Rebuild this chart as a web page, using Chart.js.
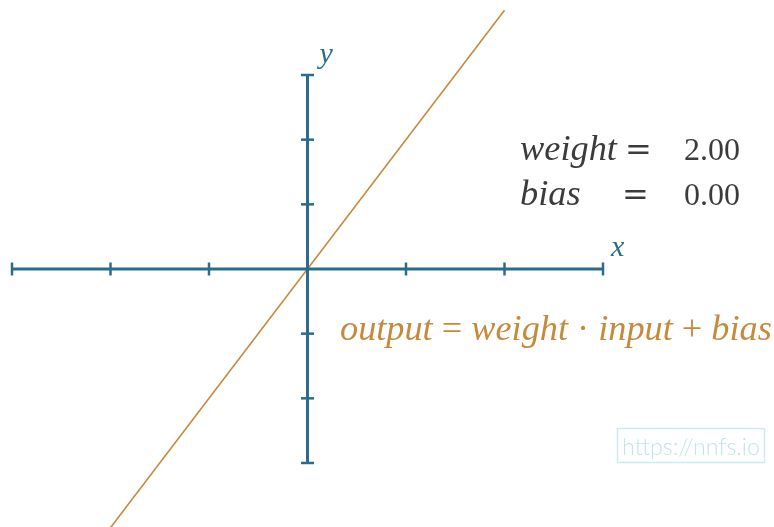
<!DOCTYPE html>
<html>
<head>
<meta charset="utf-8">
<script src="https://cdn.jsdelivr.net/npm/chart.js@4"></script>
<style>
html,body{margin:0;padding:0;background:#ffffff;}
#wrap{width:774px;height:527px;}
</style>
</head>
<body>
<div id="wrap"><canvas id="c" width="774" height="527"></canvas></div>
<script>
// Data
const xTicks = [-3, -2, -1, 0, 1, 2, 3];
const yTicks = [-3, -2, -1, 1, 2, 3];
const axisEnds = [-3, 3];
const lineInput = [-2, 2];
const lineOutput = [-4, 4];
const weightValue = "2.00";
const biasValue = "0.00";
const labels = {x: "x", y: "y", weight: "weight", bias: "bias",
  formula: "output = weight \u00b7 input + bias", site: "https://nnfs.io"};

const BLUE = '#2b6c8b';
const ORANGE = '#c68a3c';
const TEXT = '#3b3b3b';

function fitFont(ctx, text, base, target) {
  ctx.font = base(40);
  const w = ctx.measureText(text).width;
  return 40 * target / w;
}

const textPlugin = {
  id: 'texts',
  afterDraw(chart) {
    const ctx = chart.ctx;
    const xs = chart.scales.x, ys = chart.scales.y;
    ctx.save();
    ctx.textBaseline = 'alphabetic';
    // axis labels
    ctx.fillStyle = BLUE;
    ctx.font = 'italic 30px "Liberation Serif"';
    ctx.fillText(labels.x, xs.getPixelForValue(3) + 8, ys.getPixelForValue(0) - 13);
    ctx.fillText(labels.y, xs.getPixelForValue(0) + 12, ys.getPixelForValue(3) - 12);
    // weight / bias
    ctx.fillStyle = TEXT;
    const itf = s => 'italic ' + s + 'px "Liberation Serif"';
    const fsW = fitFont(ctx, labels.weight, itf, 97);
    ctx.font = itf(fsW);
    ctx.fillText(labels.weight, 520, 160);
    ctx.fillText(labels.bias, 520, 205);
    ctx.font = '32px "DejaVu Serif"';
    ctx.fillText('=', 625, 160);
    ctx.fillText('=', 622, 205);
    const rf = s => s + 'px "Liberation Serif"';
    ctx.font = rf(fitFont(ctx, weightValue, rf, 56));
    ctx.fillText(weightValue, 684, 160);
    ctx.fillText(biasValue, 684, 205);
    // formula
    ctx.fillStyle = ORANGE;
    const parts = [['output', true], [' = ', false], ['weight', true], [' \u00b7 ', false], ['input', true], [' + ', false], ['bias', true]];
    const measure = (s) => {
      let w = 0;
      for (const [t, it] of parts) { ctx.font = (it ? 'italic ' : '') + s + 'px "Liberation Serif"'; w += ctx.measureText(t).width; }
      return w;
    };
    const fs = 36 * 432 / measure(36);
    let px = 340;
    for (const [t, it] of parts) {
      ctx.font = (it ? 'italic ' : '') + fs + 'px "Liberation Serif"';
      ctx.fillText(t, px, 340);
      px += ctx.measureText(t).width;
    }
    // watermark
    ctx.strokeStyle = '#cfeaee';
    ctx.lineWidth = 1.5;
    ctx.strokeRect(617.5, 428.5, 147, 34);
    ctx.fillStyle = '#c3e4e9';
    const wf = s => '300 ' + s + 'px Lato';
    ctx.font = wf(fitFont(ctx, labels.site, wf, 138));
    ctx.fillText(labels.site, 622, 455);
    ctx.restore();
  }
};

new Chart(document.getElementById('c'), {
  type: 'scatter',
  data: {
    datasets: [
      {
        type: 'line',
        data: axisEnds.map(v => ({x: v, y: 0})),
        borderColor: BLUE, borderWidth: 3, pointRadius: 0, showLine: true
      },
      {
        type: 'line',
        data: axisEnds.map(v => ({x: 0, y: v})),
        borderColor: BLUE, borderWidth: 3, pointRadius: 0, showLine: true
      },
      {
        data: xTicks.map(v => ({x: v, y: 0})),
        pointStyle: 'line', rotation: 90, pointRadius: 6.5, borderWidth: 2.5,
        borderColor: BLUE, backgroundColor: BLUE
      },
      {
        data: yTicks.map(v => ({x: 0, y: v})),
        pointStyle: 'line', rotation: 0, pointRadius: 6.5, borderWidth: 2.5,
        borderColor: BLUE, backgroundColor: BLUE
      },
      {
        type: 'line',
        data: lineInput.map((v, i) => ({x: v, y: lineOutput[i]})),
        borderColor: ORANGE, borderWidth: 1.6, pointRadius: 0, showLine: true
      }
    ]
  },
  options: {
    responsive: false,
    animation: false,
    layout: {padding: 0, autoPadding: false},
    plugins: {legend: {display: false}, tooltip: {enabled: false}},
    scales: {
      x: {type: 'linear', display: false, min: -3.1218, max: 4.736},
      y: {type: 'linear', display: false, min: -3.990, max: 4.160}
    }
  },
  plugins: [textPlugin]
});
</script>
</body>
</html>
